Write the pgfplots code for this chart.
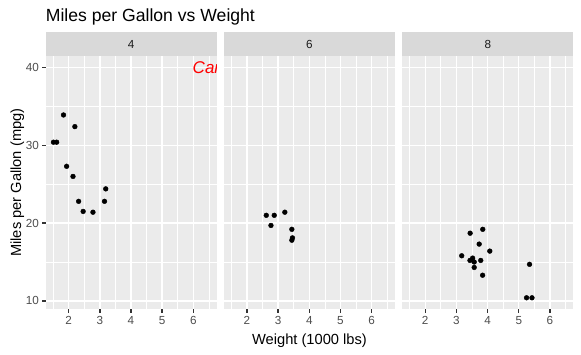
\documentclass[border=0pt]{standalone}
\usepackage{fontspec}
\setmainfont{Liberation Sans}
\usepackage{pgfplots}
\pgfplotsset{compat=1.18}
\definecolor{bg}{HTML}{EBEBEB}
\definecolor{stripc}{HTML}{D9D9D9}
\definecolor{g30}{HTML}{4D4D4D}
\definecolor{g20}{HTML}{333333}
\definecolor{g10}{HTML}{1A1A1A}
\newcommand\ticksize{\fontsize{11.7}{12}\selectfont}
\newcommand\labsize{\fontsize{14.67}{16}\selectfont}
\newcommand\titsize{\fontsize{17.6}{19}\selectfont}
\newcommand\carsize{\fontsize{17}{18}\selectfont}
\pgfplotsset{facet/.style={
  width=171pt, height=253.3pt, scale only axis,
  anchor=north west,
  xmin=1.264, xmax=6.749, ymin=8.92, ymax=41.48,
  axis background/.style={fill=bg},
  axis line style={draw=none},
  xtick={2,3,4,5,6}, minor xtick={1.5,2.5,3.5,4.5,5.5,6.5},
  ytick={10,20,30,40}, minor ytick={15,25,35},
  grid=both,
  major grid style={white, line width=1.42pt},
  minor grid style={white, line width=0.71pt},
  tick align=outside, xtick pos=bottom, ytick pos=left,
  major tick length=3.67pt, minor tick length=0pt,
  tick style={g20, line width=1.42pt},
  xticklabel style={font=\ticksize, text=g30, inner sep=0pt, yshift=-2.9pt},
  yticklabel style={font=\ticksize, text=g30, inner sep=0pt, xshift=-2.9pt},
  /pgf/number format/assume math mode=true,
}}
\begin{document}
\begin{tikzpicture}
\useasboundingbox (0,0) rectangle (581pt,-355pt);
% panel cyl = 4
\begin{axis}[facet, name=p1, at={(45.7pt,-56pt)}]
\addplot[only marks, mark=*, mark size=2.4pt, black] coordinates {
(2.320,22.8) (3.190,24.4) (3.150,22.8) (2.200,32.4) (1.615,30.4) (1.835,33.9)
(2.465,21.5) (1.935,27.3) (2.140,26.0) (1.513,30.4) (2.780,21.4)};
\begin{scope}
\clip (rel axis cs:0,0) rectangle (rel axis cs:1,1);
\node[text=red, font=\carsize\itshape, inner sep=0pt, xshift=-2.5pt] at (axis cs:6.5,40) {Car};
\end{scope}
\end{axis}
% panel cyl = 6
\begin{axis}[facet, name=p2, at={(224pt,-56pt)}, yticklabels={}, ytick style={draw=none}]
\addplot[only marks, mark=*, mark size=2.4pt, black] coordinates {
(2.620,21.0) (2.875,21.0) (3.215,21.4) (3.460,18.1) (3.440,19.2) (3.440,17.8) (2.770,19.7)};
\end{axis}
% panel cyl = 8
\begin{axis}[facet, name=p3, at={(402.3pt,-56pt)}, yticklabels={}, ytick style={draw=none}]
\addplot[only marks, mark=*, mark size=2.4pt, black] coordinates {
(3.440,18.7) (3.570,14.3) (4.070,16.4) (3.730,17.3) (3.780,15.2) (5.250,10.4) (5.424,10.4)
(5.345,14.7) (3.520,15.5) (3.435,15.2) (3.840,13.3) (3.845,19.2) (3.170,15.8) (3.570,15.0)};
\end{axis}
% strips
\foreach \p/\t in {p1/4, p2/6, p3/8}{
  \fill[stripc] (\p.north west) rectangle ([yshift=24pt]\p.north east);
  \node[font=\ticksize, text=g10] at ([yshift=12pt]\p.north) {\t};
}
% title and axis titles
\node[anchor=base west, font=\titsize, inner sep=0pt] at (45.7pt,-21.5pt) {Miles per Gallon vs Weight};
\node[anchor=base, font=\labsize, inner sep=0pt] at (309.5pt,-344.3pt) {Weight (1000 lbs)};
\node[anchor=base, rotate=90, font=\labsize, inner sep=0pt] at (21pt,-182.7pt) {Miles per Gallon (mpg)};
\end{tikzpicture}
\end{document}
